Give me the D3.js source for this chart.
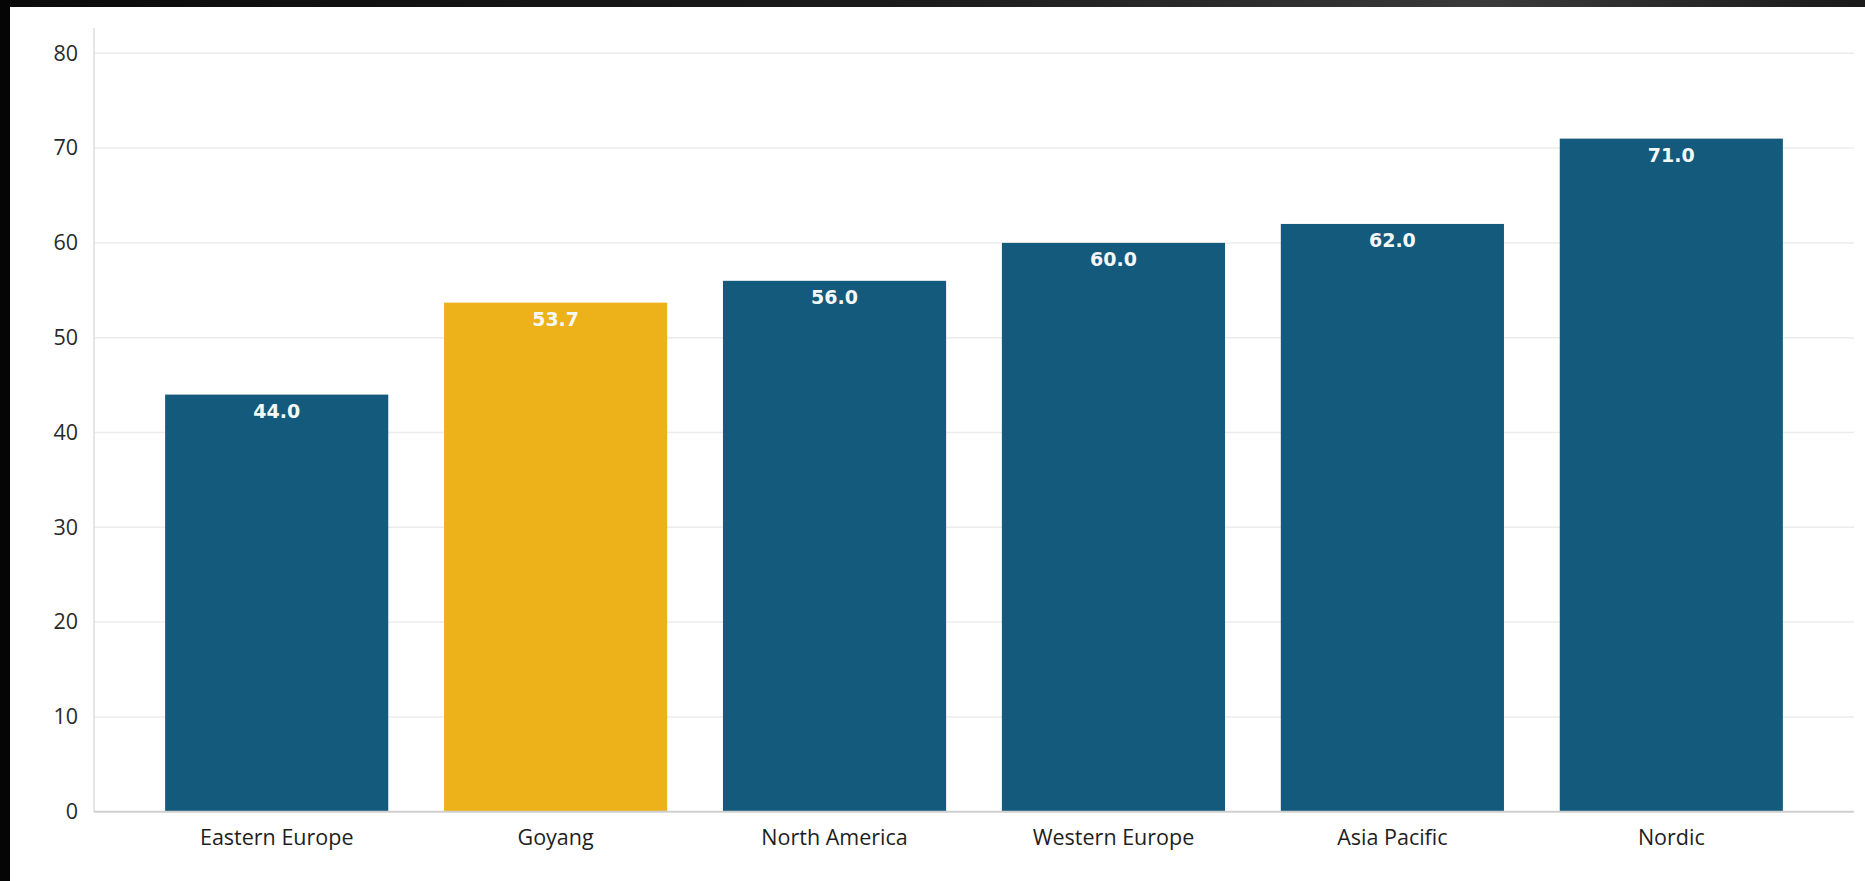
<!DOCTYPE html>
<html>
<head>
<meta charset="utf-8">
<script src="https://cdn.jsdelivr.net/npm/d3@7"></script>
<style>
  html, body { margin: 0; padding: 0; background: #ffffff; }
  svg { display: block; }
</style>
</head>
<body>
<svg id="chart" width="1865" height="881"></svg>
<script>
// Chart data
const categories = ["Eastern Europe", "Goyang", "North America", "Western Europe", "Asia Pacific", "Nordic"];
const values = [44.0, 53.7, 56.0, 60.0, 62.0, 71.0];
const highlighted = ["Goyang"];
const yTicks = [0, 10, 20, 30, 40, 50, 60, 70, 80];

const W = 1865, H = 881;
const svg = d3.select("#chart");

// Dark frame along the top and left edges
const grad = svg.append("defs").append("linearGradient").attr("id", "topband")
  .attr("x1", "0").attr("x2", "1").attr("y1", "0").attr("y2", "0");
grad.append("stop").attr("offset", "0").attr("stop-color", "#0b0b0b");
grad.append("stop").attr("offset", "0.5").attr("stop-color", "#1c1c1c");
grad.append("stop").attr("offset", "0.8").attr("stop-color", "#3a3a3a");
grad.append("stop").attr("offset", "1").attr("stop-color", "#1a1a1a");
svg.append("rect").attr("x", 0).attr("y", 0).attr("width", W).attr("height", 7).attr("fill", "url(#topband)");
svg.append("rect").attr("x", 0).attr("y", 0).attr("width", 10).attr("height", H).attr("fill", "#050505");

const axisX = 94, gridEnd = 1854;
const y = d3.scaleLinear().domain([0, 80]).range([811.7, 53.3]);
const x = d3.scaleBand().domain(categories).range([axisX, gridEnd]).paddingInner(0.2).paddingOuter(0.255);

const fontAxis = "'Open Sans', Lato, sans-serif";

// Horizontal gridlines
svg.append("g").selectAll("line").data(yTicks.filter(d => d > 0)).join("line")
  .attr("x1", axisX).attr("x2", gridEnd)
  .attr("y1", d => y(d)).attr("y2", d => y(d))
  .attr("stroke", "#ececec").attr("stroke-width", 1.5);

// Left axis line
svg.append("line").attr("x1", axisX).attr("x2", axisX).attr("y1", 28).attr("y2", y(0))
  .attr("stroke", "#dedede").attr("stroke-width", 1.5);

// Y tick labels
const yAxis = d3.axisLeft(y).tickValues(yTicks).tickSize(0).tickPadding(16).tickFormat(d3.format("d"));
const gy = svg.append("g").attr("transform", `translate(${axisX},0)`).call(yAxis);
gy.select(".domain").remove();
gy.selectAll("text").attr("font-family", fontAxis).attr("font-size", 21.5).attr("fill", "#2a2a2a");

// Bars
svg.append("g").selectAll("rect").data(categories).join("rect")
  .attr("x", d => x(d)).attr("width", x.bandwidth())
  .attr("y", (d, i) => y(values[i])).attr("height", (d, i) => y(0) - y(values[i]))
  .attr("fill", d => highlighted.includes(d) ? "#edb11a" : "#135a7c");

// Baseline
svg.append("line").attr("x1", axisX).attr("x2", gridEnd).attr("y1", y(0)).attr("y2", y(0))
  .attr("stroke", "#cfcfcf").attr("stroke-width", 2);

// Value labels inside the bar tops
svg.append("g").selectAll("text").data(categories).join("text")
  .attr("x", d => x(d) + x.bandwidth() / 2)
  .attr("y", (d, i) => y(values[i]) + 23)
  .attr("text-anchor", "middle")
  .attr("font-family", "'DejaVu Sans', Verdana, sans-serif")
  .attr("font-weight", "bold").attr("font-size", 19)
  .attr("fill", "#f4f8f6")
  .text((d, i) => values[i].toFixed(1));

// X axis category labels
const xAxis = d3.axisBottom(x).tickSize(0).tickPadding(18);
const gx = svg.append("g").attr("transform", `translate(0,${y(0)})`).call(xAxis);
gx.select(".domain").remove();
gx.selectAll("text").attr("font-family", fontAxis).attr("font-size", 21.5).attr("fill", "#1e1e1e");
</script>
</body>
</html>
